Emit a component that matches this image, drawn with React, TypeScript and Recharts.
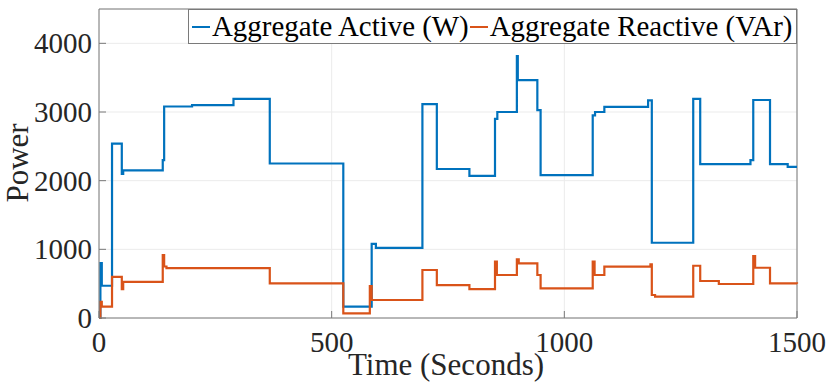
import React from 'react';
import { LineChart, Line, XAxis, YAxis, CartesianGrid, Legend, ReferenceLine } from 'recharts';

// step points: each value holds from its time until the next time
const activeTimes = [0, 3, 6, 28, 49, 52, 137, 140, 200, 289, 367, 525, 586, 595, 695, 726, 796, 851, 856, 898, 900, 942, 949, 1061, 1066, 1086, 1180, 1188, 1277, 1292, 1400, 1406, 1442, 1480, 1500];
const activeValues = [0, 800, 470, 2540, 2100, 2150, 2300, 3080, 3100, 3190, 2250, 165, 1080, 1020, 3115, 2170, 2070, 2900, 3000, 3814, 3464, 3028, 2080, 2950, 3000, 3075, 3170, 1096, 3190, 2242, 2300, 3175, 2240, 2200, 2200];

const reactiveTimes = [0, 3, 6, 28, 49, 52, 137, 140, 145, 367, 525, 582, 586, 695, 726, 796, 851, 855, 898, 902, 942, 949, 1061, 1065, 1086, 1185, 1188, 1195, 1277, 1292, 1332, 1406, 1410, 1442, 1500];
const reactiveValues = [0, 237, 165, 600, 420, 525, 917, 750, 725, 505, 68, 466, 262, 699, 480, 420, 820, 626, 854, 796, 626, 432, 820, 626, 747, 780, 335, 310, 761, 539, 495, 903, 732, 505, 500];

const xTicks = [0, 500, 1000, 1500];
const yTicks = [0, 1000, 2000, 3000, 4000];

const activeData = activeTimes.map((t, i) => ({ t, v: activeValues[i] }));
const reactiveData = reactiveTimes.map((t, i) => ({ t, v: reactiveValues[i] }));

const FONT = '"Liberation Serif", serif';
const BOX = '#7a7a7a';
const textStyle = { fontFamily: FONT };

const XTick = ({ x, y, payload }: any) => (
  <g>
    <line x1={x} x2={x} y1={y} y2={y - 7} stroke={BOX} />
    <text x={x} y={y + 34} textAnchor="middle" style={textStyle} fontSize={29} fill="#262626">
      {payload.value}
    </text>
  </g>
);

const YTick = ({ x, y, payload }: any) => (
  <g>
    <line x1={x} x2={x + 7} y1={y} y2={y} stroke={BOX} />
    <text x={x - 7} y={y + 10} textAnchor="end" style={textStyle} fontSize={29} fill="#262626">
      {payload.value}
    </text>
  </g>
);

const LegendBox = ({ payload }: any) => (
  <div
    style={{
      boxSizing: 'border-box',
      height: 35,
      border: `1px solid ${BOX}`,
      background: '#fff',
      display: 'flex',
      alignItems: 'center',
      paddingLeft: 2,
      fontFamily: FONT,
      fontSize: 28.9,
      color: '#000',
      whiteSpace: 'nowrap',
    }}
  >
    {(payload || []).map((p: any) => (
      <span key={p.value} style={{ display: 'flex', alignItems: 'center' }}>
        <span style={{ display: 'inline-block', width: 18, height: 2, background: p.color, marginLeft: 1, marginRight: 2 }} />
        <span>{p.value}</span>
      </span>
    ))}
  </div>
);

export default function App() {
  return (
    <div style={{ position: 'absolute', left: 0, top: 0, width: 830, height: 390, background: '#fff' }}>
      <LineChart width={830} height={390} margin={{ top: 9, right: 33, left: 0, bottom: 0 }}>
        <CartesianGrid stroke="#ebebeb" />
        <XAxis
          dataKey="t"
          type="number"
          domain={[0, 1500]}
          ticks={xTicks}
          height={72}
          stroke={BOX}
          tickLine={false}
          tickSize={0}
          tickMargin={0}
          tick={<XTick />}
          label={({ viewBox }: any) => (
            <text x={viewBox.x + viewBox.width / 2 - 2} y={375} textAnchor="middle" style={textStyle} fontSize={31} fill="#262626">
              Time (Seconds)
            </text>
          )}
        />
        <YAxis
          type="number"
          domain={[0, 4500]}
          ticks={yTicks}
          width={99}
          stroke={BOX}
          tickLine={false}
          tickSize={0}
          tickMargin={0}
          tick={<YTick />}
          label={() => (
            <text x={28} y={163} textAnchor="middle" transform="rotate(-90, 28, 163)" style={textStyle} fontSize={31} fill="#262626">
              Power
            </text>
          )}
        />
        <ReferenceLine x={1500} stroke={BOX} />
        <ReferenceLine y={4500} stroke={BOX} />
        <Legend
          layout="horizontal"
          verticalAlign="middle"
          align="center"
          content={<LegendBox />}
          wrapperStyle={{ position: 'absolute', top: 9, left: 188, width: 609, height: 35 }}
        />
        <Line
          data={activeData}
          dataKey="v"
          name="Aggregate Active (W)"
          type="stepAfter"
          stroke="#0072BD"
          strokeWidth={2.2}
          dot={false}
          isAnimationActive={false}
        />
        <Line
          data={reactiveData}
          dataKey="v"
          name="Aggregate Reactive (VAr)"
          type="stepAfter"
          stroke="#D95319"
          strokeWidth={2.2}
          dot={false}
          isAnimationActive={false}
        />
      </LineChart>
    </div>
  );
}
